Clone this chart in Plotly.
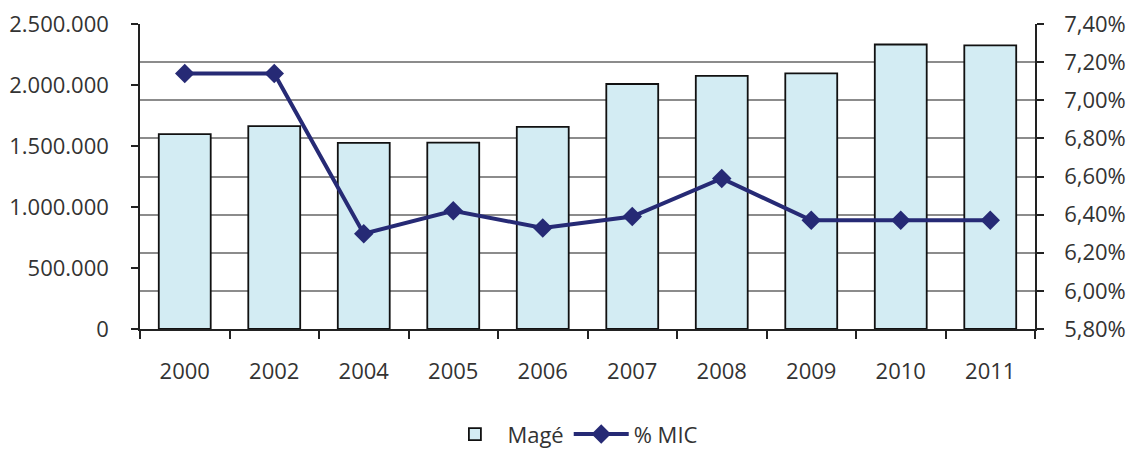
import plotly.graph_objects as go

years = ["2000", "2002", "2004", "2005", "2006", "2007", "2008", "2009", "2010", "2011"]
mage = [1598000, 1663000, 1525000, 1527000, 1656000, 2008000, 2074000, 2095000, 2332000, 2324000]
mic = [0.0714, 0.0714, 0.0630, 0.0642, 0.0633, 0.0639, 0.0659, 0.0637, 0.0637, 0.0637]

left_ticks = [0, 500000, 1000000, 1500000, 2000000, 2500000]
right_ticks = [0.058, 0.060, 0.062, 0.064, 0.066, 0.068, 0.070, 0.072, 0.074]

font_family = "Open Sans, DejaVu Sans, sans-serif"
text_color = "#333333"
fs = 22

fig = go.Figure()
fig.add_trace(go.Bar(
    x=years, y=mage, name="Magé",
    marker=dict(color="#d3ecf3", line=dict(color="#111111", width=1.8)),
    yaxis="y",
))
fig.add_trace(go.Scatter(
    x=years, y=mic, name="% MIC", mode="lines+markers",
    line=dict(color="#262a75", width=4),
    marker=dict(symbol="diamond", size=15, color="#262a75"),
    yaxis="y2",
))

fig.update_layout(
    width=1130, height=450,
    margin=dict(l=140, r=95, t=24, b=121, autoexpand=False),
    paper_bgcolor="white", plot_bgcolor="white",
    separators=",.",
    bargap=0.42,
    font=dict(family=font_family, size=fs, color=text_color),
    xaxis=dict(
        type="category", range=[-0.5, len(years) - 0.5],
        tickson="boundaries", ticks="outside", ticklen=8,
        tickcolor="#222222", tickwidth=1.5, showline=True, linecolor="#222222", linewidth=1.5,
        showgrid=False, ticklabelstandoff=22, automargin=False,
        tickfont=dict(size=fs, color=text_color),
    ),
    yaxis=dict(
        range=[0, 2500000], tickvals=left_ticks, tickformat=",.0f",
        ticks="outside", ticklen=7, tickcolor="#222222", tickwidth=1.5,
        showline=True, linecolor="#222222", linewidth=1.5, showgrid=False, zeroline=False,
        ticklabelstandoff=18, automargin=False,
        tickfont=dict(size=fs, color=text_color),
    ),
    yaxis2=dict(
        range=[0.058, 0.074], tickvals=right_ticks, tickformat=".2%",
        overlaying="y", side="right",
        ticks="outside", ticklen=7, tickcolor="#222222", tickwidth=1.5,
        showline=True, linecolor="#222222", linewidth=1.5,
        showgrid=True, gridcolor="#8c8c8c", gridwidth=1.5, zeroline=False,
        ticklabelstandoff=16, automargin=False,
        tickfont=dict(size=fs, color=text_color),
    ),
    legend=dict(
        orientation="h", xref="container", yref="container",
        x=0.507, xanchor="center", y=0.035, yanchor="middle",
        itemwidth=55,
        font=dict(size=fs, color=text_color),
    ),
    showlegend=True,
)

fig.write_html("out.html", config={"responsive": False, "displayModeBar": False},
               post_script="document.body.style.margin='0';document.body.style.overflow='hidden';")
